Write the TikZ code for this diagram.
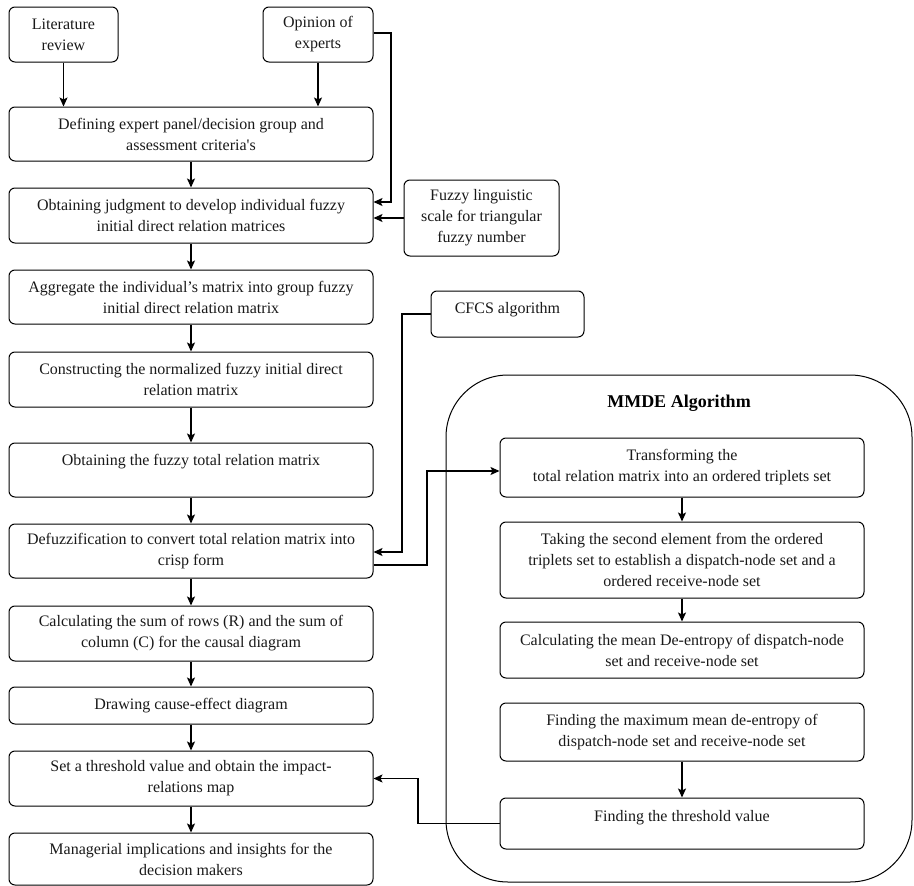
\documentclass[tikz,border=0pt]{standalone}
\usepackage{fontspec}
\setmainfont{Liberation Serif}
\usetikzlibrary{arrows.meta}
\begin{document}
\begin{tikzpicture}[x=1pt,y=-1pt,
  box/.style={draw, line width=1pt, rounded corners=6pt, align=center, inner sep=0pt,
    font=\fontsize{16}{21}\selectfont, text=black!90},
  sz/.style 2 args={minimum width=#1pt, minimum height=#2pt},
  arr/.style={line width=1.4pt, -{Stealth[length=9pt,width=8pt,inset=2pt]}}]
\useasboundingbox (0,0) rectangle (914,886);

% left column
\node[box,sz={109}{55}] (lit) at (63.5,34.5) {Literature\\review};
\node[box,sz={110}{55}] (op) at (318,34.5) {Opinion of\\experts};
\node[box,sz={364}{54}] (def) at (191,134) {Defining expert panel/decision group and\\assessment criteria\textquotesingle s};
\node[box,sz={364}{55}] (judg) at (191,215.5) {Obtaining judgment to develop individual fuzzy\\initial direct relation matrices};
\node[box,sz={155}{76}] (fuz) at (481.5,218) {Fuzzy linguistic\\scale for triangular\\fuzzy number};
\node[box,sz={364}{54}] (agg) at (191,297) {Aggregate the individual’s matrix into group fuzzy\\initial direct relation matrix};
\node[box,sz={364}{55}] (cons) at (191,379.5) {Constructing the normalized fuzzy initial direct\\relation matrix};
\node[box,sz={364}{54}] (tot) at (191,470) {Obtaining the fuzzy total relation matrix\\\mbox{}};
\node[box,sz={364}{54}] (defz) at (191,551) {Defuzzification to convert total relation matrix into\\crisp form};
\node[box,sz={364}{55}] (calc) at (191,633.5) {Calculating the sum of rows (R) and the sum of\\column (C) for the causal diagram};
\node[box,sz={364}{37}] (drw) at (191,705.5) {Drawing cause-effect diagram};
\node[box,sz={364}{55}] (set) at (191,778.5) {Set a threshold value and obtain the impact-\\relations map};
\node[box,sz={364}{52}] (man) at (191,859) {Managerial implications and insights for the\\decision makers};
\node[box,sz={153}{46}] (cfcs) at (507.5,314) {CFCS algorithm\\[-8pt]\mbox{}};

% MMDE group
\node[draw, line width=1pt, rounded corners=62pt, minimum width=466pt, minimum height=507pt, inner sep=0pt] (mmde) at (679,628.5) {};
\node[font=\fontsize{18}{22}\selectfont\bfseries, inner sep=0pt] (mtitle) at (679,403) {MMDE Algorithm};
\node[box,sz={364}{59}] (trans) at (682,467.5) {Transforming the\\total relation matrix into an ordered triplets set};
\node[box,sz={364}{76}] (take) at (682,560) {Taking the second element from the ordered\\triplets set to establish a dispatch-node set and a\\ordered receive-node set};
\node[box,sz={364}{56}] (mean) at (682,650) {Calculating the mean De-entropy of dispatch-node\\set and receive-node set};
\node[box,sz={364}{58}] (mx) at (682,732) {Finding the maximum mean de-entropy of\\dispatch-node set and receive-node set};
\node[box,sz={364}{51}] (thr) at (682,823.5) {Finding the threshold value\\[-6pt]\mbox{}};

% connectors
\draw[arr] (lit.south) -- (lit.south |- def.north);
\draw[arr] (op.south) -- (op.south |- def.north);
\coordinate (c1) at (391,33);
\coordinate (c2) at (391,202);
\draw[arr] (c1 -| op.east) -- (c1) -- (c2) -- (c2 -| judg.east);
\draw[arr] (fuz.west) -- (fuz.west -| judg.east);
\foreach \a/\b in {def/judg,judg/agg,agg/cons,cons/tot,tot/defz,defz/calc,calc/drw,drw/set,set/man,trans/take,take/mean,mx/thr}
  \draw[arr] (\a.south) -- (\b.north);
\coordinate (c4) at (402,552);
\draw[arr] (cfcs.west) -| (c4) -- (c4 -| defz.east);
\coordinate (c5) at (427,565);
\coordinate (c6) at (427,471);
\draw[arr] (c5 -| defz.east) -- (c5) -- (c6) -- (c6 -| trans.west);
\coordinate (c7) at (418,778.5);
\draw[arr] (thr.west) -| (c7) -- (set.east);
\end{tikzpicture}
\end{document}
